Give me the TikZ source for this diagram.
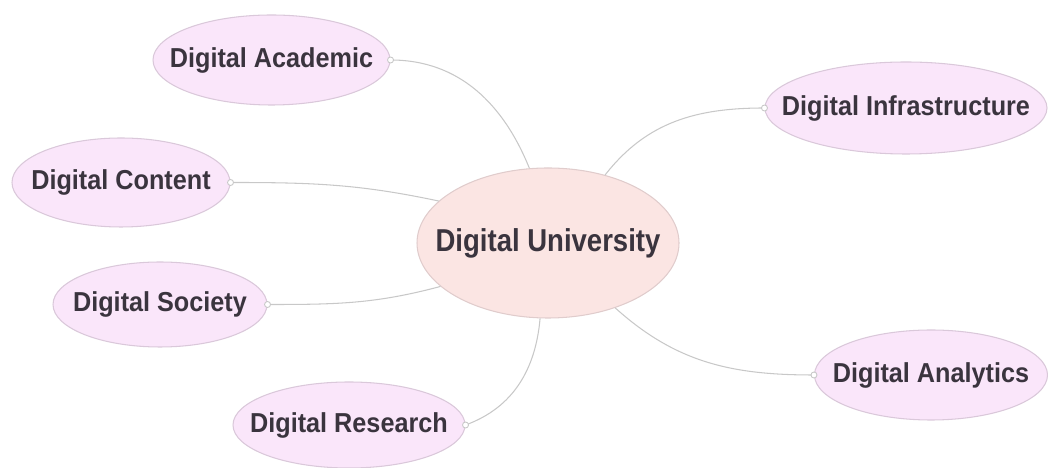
\documentclass[tikz,border=0pt]{standalone}
\usepackage{fontspec}
\setmainfont{Liberation Sans}
\newfontfamily\topicfont[FakeStretch=0.92]{Liberation Sans}
\newfontfamily\hubfont[FakeStretch=0.87]{Liberation Sans}
\usepackage{tikz}
\usetikzlibrary{shapes.geometric}
\usetikzlibrary{calc}
\definecolor{lilac}{RGB}{250, 230, 250}
\definecolor{lilacedge}{RGB}{218, 200, 218}
\definecolor{blush}{RGB}{251, 229, 227}
\definecolor{blushedge}{RGB}{224, 204, 204}
\definecolor{wire}{RGB}{200, 200, 200}
\definecolor{ink}{RGB}{58, 52, 62}
\newcommand{\tightlabel}[1]{\makebox[0pt][c]{#1}}

\begin{document}
\begin{tikzpicture}[
        topic/.style   = {ellipse, draw=lilacedge, fill=lilac, line width=0.6pt, inner sep=0pt,
                          text=ink, font=\topicfont\fontsize{15.6}{18}\selectfont\bfseries},
        hub/.style     = {ellipse, draw=blushedge, fill=blush, line width=0.6pt, inner sep=0pt,
                          text=ink, font=\hubfont\fontsize{18}{21}\selectfont\bfseries,
                          minimum width=5.24cm, minimum height=3.00cm},
        branch/.style  = {draw=wire, line width=0.6pt},
        knob/.style    = {draw=wire, fill=white, line width=0.5pt}
    ]
    \useasboundingbox (0,0) rectangle (20.96,9.36);
    \node[hub]                                              (uni)   at (10.96, 4.50) {\tightlabel{Digital University}};
    \node[topic, minimum width=4.74cm, minimum height=1.80cm] (acad)  at ( 5.43, 8.16) {\tightlabel{Digital Academic}};
    \node[topic, minimum width=5.64cm, minimum height=1.84cm] (infra) at (18.12, 7.20) {\tightlabel{Digital Infrastructure}};
    \node[topic, minimum width=4.36cm, minimum height=1.78cm] (cont)  at ( 2.42, 5.71) {\tightlabel{Digital Content}};
    \node[topic, minimum width=4.28cm, minimum height=1.70cm] (soc)   at ( 3.20, 3.27) {\tightlabel{Digital Society}};
    \node[topic, minimum width=4.66cm, minimum height=1.80cm] (anal)  at (18.62, 1.86) {\tightlabel{Digital Analytics}};
    \node[topic, minimum width=4.64cm, minimum height=1.72cm] (res)   at ( 6.98, 0.86) {\tightlabel{Digital Research}};

    \draw[branch] (acad.east)  to[out=0,   in=112] (uni.104);
    \draw[branch] (infra.west) to[out=180, in=52]  (uni.50);
    \draw[branch] (cont.east)  to[out=0,   in=168] (uni.159);
    \draw[branch] (soc.east)   to[out=0,   in=195] (uni.202);
    \draw[branch] (res.east)   to[out=20,  in=265] (uni.264);
    \draw[branch] (anal.west)  to[out=180, in=318] (uni.316);

    \foreach \n/\a in {acad/east, cont/east, soc/east, res/east, infra/west, anal/west}
        \filldraw[knob] (\n.\a) circle (0.06);
\end{tikzpicture}
\end{document}
